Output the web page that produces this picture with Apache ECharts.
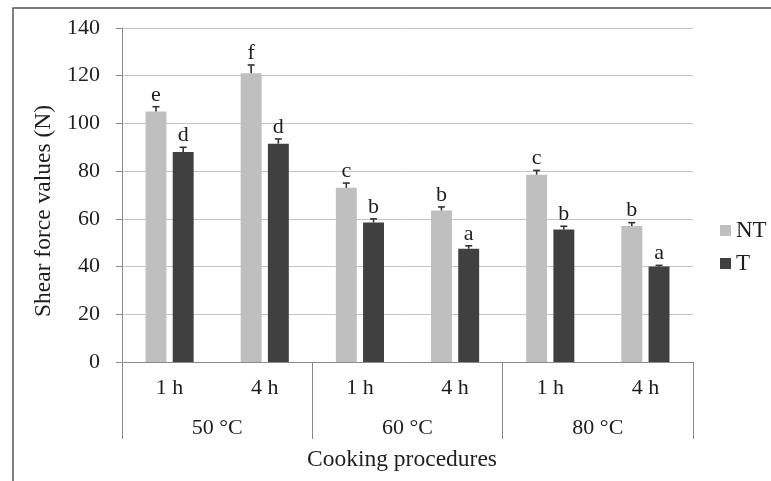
<!DOCTYPE html>
<html>
<head>
<meta charset="utf-8">
<script src="https://cdn.jsdelivr.net/npm/echarts@6/dist/echarts.min.js"></script>
<style>
  html, body { margin: 0; padding: 0; background: #fff; }
  #chart { width: 771px; height: 481px; }
</style>
</head>
<body>
<div id="chart"></div>
<script>
const durations = ['1 h', '4 h', '1 h', '4 h', '1 h', '4 h']
const temperatures = ['50 °C', '60 °C', '80 °C']
const yTicks = { min: 0, max: 140, interval: 20 }

const ntMeans = [105, 121, 73, 63.5, 78.5, 57]
const ntErrors = [2, 3.5, 2, 1.5, 1.8, 1.4]
const ntLetters = ['e', 'f', 'c', 'b', 'c', 'b']

const tMeans = [88, 91.5, 58.5, 47.5, 55.5, 40]
const tErrors = [2, 2, 1.5, 1.2, 1.4, 0.5]
const tLetters = ['d', 'd', 'b', 'a', 'b', 'a']

const FONT = '"Liberation Serif", "Times New Roman", serif'
const TEXT = '#1e1e1e'
const AXIS = '#8a8a8a'
const BAR_W = 0.22
const BAR_GAP = 0.3

const chart = echarts.init(document.getElementById('chart'))

function errorSeries(name, means, errors, letters, side) {
  return {
    type: 'custom',
    name: name + ' err',
    xAxisIndex: 0,
    z: 5,
    silent: true,
    renderItem(params, api) {
      const i = api.value(0)
      const base = api.coord([i, api.value(1)])
      const top = api.coord([i, api.value(1) + api.value(2)])
      const band = api.size([1, 0])[0]
      const bw = band * BAR_W
      const x = base[0] + side * bw * (1 + BAR_GAP) / 2
      return {
        type: 'group',
        children: [
          { type: 'line', shape: { x1: x, y1: base[1], x2: x, y2: top[1] }, style: { stroke: '#333', lineWidth: 1.6 } },
          { type: 'line', shape: { x1: x - 3.5, y1: top[1], x2: x + 3.5, y2: top[1] }, style: { stroke: '#333', lineWidth: 1.6 } },
          { type: 'text', style: { x: x, y: top[1] - 1, text: letters[params.dataIndex], align: 'center', verticalAlign: 'bottom', font: '22px ' + FONT, fill: TEXT } }
        ]
      }
    },
    data: means.map((m, i) => [i, m, errors[i]])
  }
}

chart.setOption({
  animation: false,
  grid: { left: 122, right: 78, top: 28, bottom: 119 },
  legend: {
    orient: 'vertical',
    left: 720,
    top: 219,
    padding: 0,
    itemWidth: 11,
    itemHeight: 11,
    itemGap: 10,
    icon: 'rect',
    data: ['NT', 'T'],
    textStyle: { fontFamily: FONT, fontSize: 23, color: TEXT, padding: [0, 0, 0, 0] }
  },
  graphic: [
    {
      type: 'rect',
      shape: { x: 13, y: 8, width: 800, height: 520 },
      style: { fill: 'none', stroke: '#555', lineWidth: 1.5 },
      silent: true
    },
    {
      type: 'text',
      x: 44,
      y: 211,
      rotation: Math.PI / 2,
      style: { text: 'Shear force values (N)', align: 'center', verticalAlign: 'middle', font: '23.5px ' + FONT, fill: TEXT }
    },
    {
      type: 'text',
      x: 402,
      y: 460,
      style: { text: 'Cooking procedures', align: 'center', verticalAlign: 'middle', font: '23.5px ' + FONT, fill: TEXT }
    }
  ],
  xAxis: [
    {
      type: 'category',
      data: durations,
      position: 'bottom',
      axisLine: { lineStyle: { color: AXIS, width: 1 } },
      axisTick: { show: false },
      axisLabel: { margin: 15, fontFamily: FONT, fontSize: 22, color: TEXT }
    },
    {
      type: 'category',
      data: temperatures,
      position: 'bottom',
      offset: 0,
      axisLine: { show: false },
      axisTick: { show: true, length: 77, lineStyle: { color: AXIS, width: 1 } },
      axisLabel: { margin: 55, fontFamily: FONT, fontSize: 22, color: TEXT }
    }
  ],
  yAxis: {
    type: 'value',
    min: yTicks.min,
    max: yTicks.max,
    interval: yTicks.interval,
    axisLine: { show: true, lineStyle: { color: AXIS, width: 1 } },
    axisTick: { show: true, length: 6, lineStyle: { color: AXIS } },
    axisLabel: { margin: 22, fontFamily: FONT, fontSize: 22, color: TEXT },
    splitLine: { lineStyle: { color: '#c4c4c4', width: 1 } }
  },
  series: [
    {
      name: 'NT',
      type: 'bar',
      xAxisIndex: 0,
      barWidth: (BAR_W * 100) + '%',
      barGap: (BAR_GAP * 100) + '%',
      itemStyle: { color: '#bfbfbf' },
      data: ntMeans
    },
    {
      name: 'T',
      type: 'bar',
      xAxisIndex: 0,
      barWidth: (BAR_W * 100) + '%',
      barGap: (BAR_GAP * 100) + '%',
      itemStyle: { color: '#404040' },
      data: tMeans
    },
    errorSeries('NT', ntMeans, ntErrors, ntLetters, -1),
    errorSeries('T', tMeans, tErrors, tLetters, 1)
  ]
})
</script>
</body>
</html>
